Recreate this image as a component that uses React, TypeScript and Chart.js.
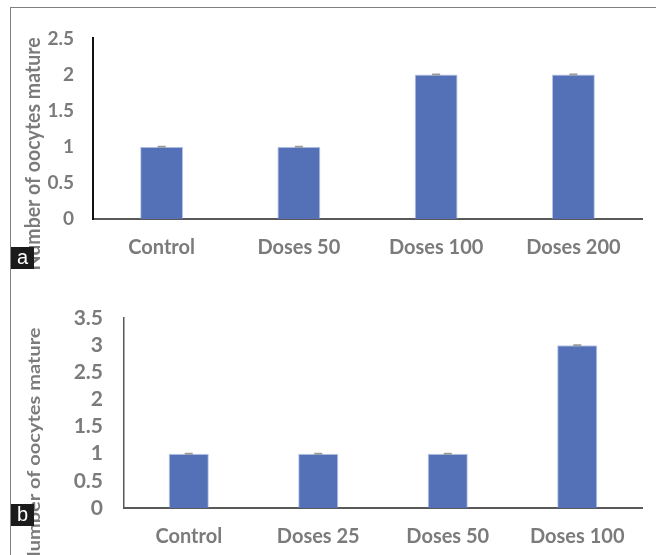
import React, { useEffect, useRef } from "react";
import { Chart, registerables } from "chart.js";

Chart.register(...registerables);

// ---- data ----
const categoriesA = ["Control", "Doses 50", "Doses 100", "Doses 200"];
const valuesA = [1, 1, 2, 2];
const errorsA = [0, 0, 0, 0];
const yTicksA = [0, 0.5, 1, 1.5, 2, 2.5];

const categoriesB = ["Control", "Doses 25", "Doses 50", "Doses 100"];
const valuesB = [1, 1, 1, 3];
const errorsB = [0, 0, 0, 0];
const yTicksB = [0, 0.5, 1, 1.5, 2, 2.5, 3, 3.5];

const yTitle = "Number of oocytes mature";

const BAR_COLOR = "#5470b6";
const TEXT_GRAY = "#7b7b7b";
const FONT = "Lato";

const capPlugin = {
  id: "errCaps",
  afterDatasetsDraw(chart: any, _args: any, o: any) {
    const meta = chart.getDatasetMeta(0);
    const ys = chart.scales.y;
    const ctx = chart.ctx;
    ctx.save();
    ctx.strokeStyle = o.color;
    ctx.lineWidth = o.width;
    meta.data.forEach((bar: any, i: number) => {
      const v = chart.data.datasets[0].data[i];
      const e = o.errors[i] || 0;
      const yTop = ys.getPixelForValue(v + e);
      const yBot = ys.getPixelForValue(v - e);
      ctx.beginPath();
      ctx.moveTo(bar.x - o.half, yTop);
      ctx.lineTo(bar.x + o.half, yTop);
      ctx.moveTo(bar.x - o.half, yBot);
      ctx.lineTo(bar.x + o.half, yBot);
      ctx.moveTo(bar.x, yTop);
      ctx.lineTo(bar.x, yBot);
      ctx.stroke();
    });
    ctx.restore();
  },
};

const sideTitlePlugin = {
  id: "sideTitle",
  afterDraw(chart: any, _args: any, o: any) {
    const ctx = chart.ctx;
    ctx.save();
    ctx.translate(o.x, o.y);
    ctx.rotate(-Math.PI / 2);
    ctx.scale(o.sx, o.sy);
    ctx.font = o.font;
    ctx.fillStyle = o.color;
    ctx.textAlign = "center";
    ctx.textBaseline = "middle";
    ctx.fillText(o.text, 0, 0);
    ctx.restore();
  },
};

type PanelProps = {
  categories: string[];
  values: number[];
  errors: number[];
  yTicks: number[];
  left: number;
  top: number;
  width: number;
  height: number;
  yAxisWidth: number;
  xAxisHeight: number;
  padTop: number;
  padRight: number;
  yTickPad: number;
  xTickPad: number;
  yTickSize: number;
  xTickSize: number;
  yBorderColor: string;
  yBorderWidth: number;
  barPct: number;
  title: any;
};

function BarPanel(p: PanelProps) {
  const ref = useRef<HTMLCanvasElement>(null);
  useEffect(() => {
    if (!ref.current) return;
    const chart = new Chart(ref.current, {
      type: "bar",
      data: {
        labels: p.categories,
        datasets: [
          {
            data: p.values,
            backgroundColor: BAR_COLOR,
            borderColor: "rgba(140,160,215,0.6)",
            borderWidth: 1,
            categoryPercentage: 1,
            barPercentage: p.barPct,
          },
        ],
      },
      options: {
        animation: false,
        responsive: false,
        maintainAspectRatio: false,
        devicePixelRatio: 1,
        layout: {
          padding: { top: p.padTop, right: p.padRight, left: 0, bottom: 0 },
        },
        plugins: {
          legend: { display: false },
          tooltip: { enabled: false },
          title: { display: false },
          errCaps: { errors: p.errors, color: "#9a9a9a", width: 2, half: 4 },
          sideTitle: p.title,
        } as any,
        scales: {
          x: {
            grid: { display: false, drawTicks: false },
            border: { display: true, color: "#595959", width: 2 },
            ticks: {
              color: TEXT_GRAY,
              padding: p.xTickPad,
              font: { family: FONT, weight: "bold", size: p.xTickSize },
              maxRotation: 0,
              autoSkip: false,
            },
            afterFit: (s: any) => {
              s.height = p.xAxisHeight;
            },
          },
          y: {
            min: p.yTicks[0],
            max: p.yTicks[p.yTicks.length - 1],
            grid: { display: false, drawTicks: false },
            border: { display: true, color: p.yBorderColor, width: p.yBorderWidth },
            afterBuildTicks: (s: any) => {
              s.ticks = p.yTicks.map((v) => ({ value: v }));
            },
            ticks: {
              color: TEXT_GRAY,
              padding: p.yTickPad,
              autoSkip: false,
              font: { family: FONT, weight: "bold", size: p.yTickSize },
              callback: (v: any) => String(v),
            },
            afterFit: (s: any) => {
              s.width = p.yAxisWidth;
            },
          },
        },
      },
      plugins: [capPlugin, sideTitlePlugin] as any,
    } as any);
    return () => chart.destroy();
  }, []);
  return (
    <canvas
      ref={ref}
      width={p.width}
      height={p.height}
      style={{
        position: "absolute",
        left: p.left,
        top: p.top,
        width: p.width,
        height: p.height,
      }}
    />
  );
}

function Tag({ text, left, top }: { text: string; left: number; top: number }) {
  return (
    <div
      style={{
        position: "absolute",
        left,
        top,
        width: 23,
        height: 22,
        background: "#1b1b1b",
        color: "#ffffff",
        fontFamily: "'Liberation Sans', Arial, sans-serif",
        fontSize: 20,
        lineHeight: "21px",
        textAlign: "center",
      }}
    >
      {text}
    </div>
  );
}

export default function App() {
  return (
    <div
      style={{
        position: "absolute",
        left: 0,
        top: 0,
        width: 656,
        height: 555,
        background: "#ffffff",
        overflow: "hidden",
      }}
    >
      <div
        style={{
          position: "absolute",
          left: 10,
          top: 7,
          width: 646,
          height: 548,
          borderTop: "1.5px solid #808080",
          borderLeft: "1.5px solid #808080",
          boxSizing: "border-box",
        }}
      />
      <BarPanel
        categories={categoriesA}
        values={valuesA}
        errors={errorsA}
        yTicks={yTicksA}
        left={11}
        top={8}
        width={645}
        height={262}
        yAxisWidth={82}
        xAxisHeight={51}
        padTop={19}
        padRight={14}
        yTickPad={19}
        xTickPad={17}
        yTickSize={19}
        xTickSize={20}
        yBorderColor="#111111"
        yBorderWidth={2}
        barPct={0.313}
        title={{
          text: yTitle,
          x: 22,
          y: 146,
          sx: 1,
          sy: 1.05,
          font: `bold 19.5px ${FONT}`,
          color: TEXT_GRAY,
        }}
      />
      <BarPanel
        categories={categoriesB}
        values={valuesB}
        errors={errorsB}
        yTicks={yTicksB}
        left={11}
        top={275}
        width={645}
        height={280}
        yAxisWidth={113}
        xAxisHeight={47}
        padTop={43}
        padRight={14}
        yTickPad={21}
        xTickPad={17}
        yTickSize={21}
        xTickSize={20}
        yBorderColor="#595959"
        yBorderWidth={1.5}
        barPct={0.31}
        title={{
          text: yTitle,
          x: 24,
          y: 172,
          sx: 1.0,
          sy: 0.85,
          font: `bold 20px ${FONT}`,
          color: TEXT_GRAY,
        }}
      />
      <Tag text="a" left={11} top={247} />
      <Tag text="b" left={11} top={504} />
    </div>
  );
}
